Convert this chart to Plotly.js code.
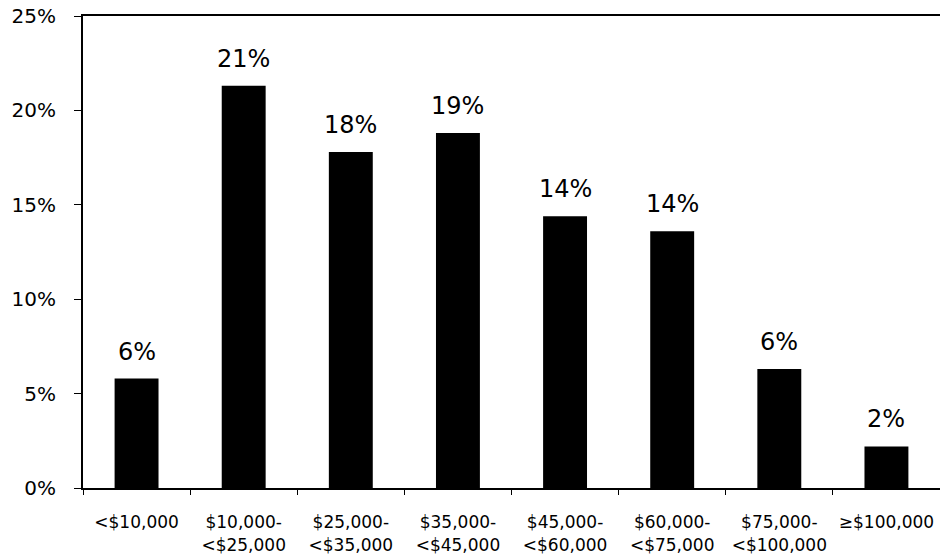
<!DOCTYPE html>
<html>
<head>
<meta charset="utf-8">
<script src="https://cdn.plot.ly/plotly-3.0.1.min.js"></script>
<style>
  html, body { margin: 0; padding: 0; background: #ffffff; overflow: hidden; }
  #chart { width: 940px; height: 560px; }
</style>
</head>
<body>
<div id="chart"></div>
<script>
// Household income brackets and the share of households in each (percent)
const incomeBrackets = [
  '<$10,000',
  '$10,000-<br><$25,000',
  '$25,000-<br><$35,000',
  '$35,000-<br><$45,000',
  '$45,000-<br><$60,000',
  '$60,000-<br><$75,000',
  '$75,000-<br><$100,000',
  '≥$100,000'
];
const sharePercent = [5.8, 21.3, 17.8, 18.8, 14.4, 13.6, 6.3, 2.2];
const yTickValues = [0, 5, 10, 15, 20, 25];

const FONT = 'DejaVu Sans, Verdana, sans-serif';

const bars = {
  type: 'bar',
  x: incomeBrackets,
  y: sharePercent,
  marker: { color: '#000000', line: { width: 0 } },
  hoverinfo: 'skip'
};

// Rounded value labels above each bar
const valueLabels = incomeBrackets.map((cat, i) => ({
  x: cat,
  y: sharePercent[i],
  xref: 'x',
  yref: 'y',
  text: Math.round(sharePercent[i]) + '%',
  showarrow: false,
  yanchor: 'bottom',
  yshift: 11,
  font: { family: FONT, size: 24, color: '#000000' }
}));

const layout = {
  width: 940,
  height: 560,
  margin: { l: 83, r: 0, t: 16, b: 72 },
  paper_bgcolor: '#ffffff',
  plot_bgcolor: '#ffffff',
  showlegend: false,
  bargap: 0.59,
  font: { family: FONT, color: '#000000' },
  xaxis: {
    type: 'category',
    showline: true,
    linecolor: '#000000',
    linewidth: 2,
    mirror: true,
    ticks: 'outside',
    tickson: 'boundaries',
    ticklen: 5,
    tickwidth: 1,
    tickcolor: '#000000',
    showgrid: false,
    zeroline: false,
    tickangle: 0,
    ticklabelstandoff: 18,
    tickfont: { family: FONT, size: 17, color: '#000000' }
  },
  yaxis: {
    range: [0, 25],
    tickvals: yTickValues,
    ticktext: yTickValues.map(v => v + '%'),
    showline: true,
    linecolor: '#000000',
    linewidth: 2,
    mirror: false,
    ticks: 'outside',
    ticklen: 7,
    tickwidth: 1,
    tickcolor: '#000000',
    showgrid: false,
    zeroline: false,
    ticklabelstandoff: 14,
    tickfont: { family: FONT, size: 20, color: '#000000' }
  },
  annotations: valueLabels
};

Plotly.newPlot('chart', [bars], layout, { displayModeBar: false, staticPlot: true });
</script>
</body>
</html>
